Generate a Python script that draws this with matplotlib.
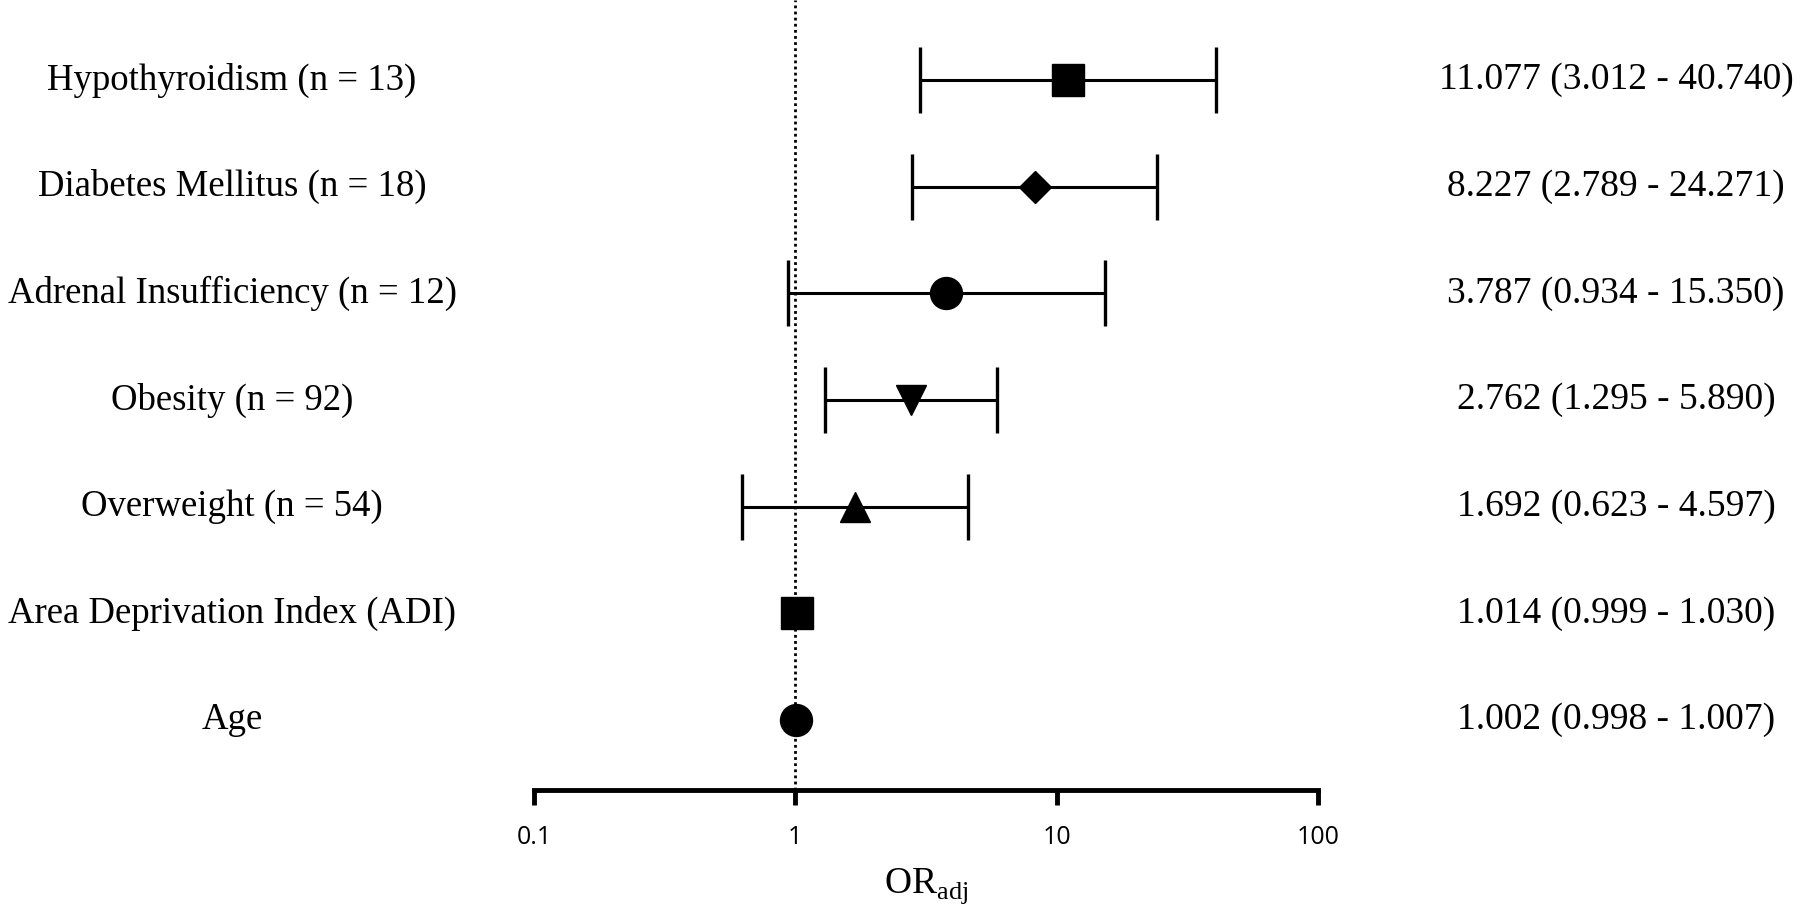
import matplotlib
matplotlib.use("Agg")
import matplotlib.pyplot as plt
import matplotlib.transforms as mtransforms
import numpy as np

labels = ["Hypothyroidism (n = 13)", "Diabetes Mellitus (n = 18)",
          "Adrenal Insufficiency (n = 12)", "Obesity (n = 92)",
          "Overweight (n = 54)", "Area Deprivation Index (ADI)", "Age"]
odds = [11.077, 8.227, 3.787, 2.762, 1.692, 1.014, 1.002]
lower = [3.012, 2.789, 0.934, 1.295, 0.623, 0.999, 0.998]
upper = [40.740, 24.271, 15.350, 5.890, 4.597, 1.030, 1.007]
markers = ["s", "D", "o", "v", "^", "s", "o"]
msizes = [23, 16.5, 23, 22, 22, 23, 23]
xticks = [0.1, 1, 10, 100]
xticklabels = ["0.1", "1", "10", "100"]

plt.rcParams['mathtext.fontset'] = 'custom'
plt.rcParams['mathtext.rm'] = 'Liberation Serif'

fig = plt.figure(figsize=(18, 9.16), dpi=100)
ax = fig.add_axes([534 / 1800, 126 / 916, 784 / 1800, 790 / 916])

n = len(labels)
ypos = list(range(n, 0, -1))

ax.axvline(1, color="black", lw=2, ls=(0, (1, 1.2)), zorder=1)

decade_px = 784 / 3.0
for i in range(n):
    err = [[odds[i] - lower[i]], [upper[i] - odds[i]]]
    # GraphPad-style: whiskers hidden when the CI fits inside the symbol
    span_px = np.log10(upper[i] / lower[i]) * decade_px
    cap = 24 if span_px > msizes[i] * 100 / 72 else 0
    ax.errorbar(odds[i], ypos[i], xerr=err, fmt="none", ecolor="black",
                elinewidth=2.2, capsize=cap, capthick=2.4, zorder=2)
    ax.plot(odds[i], ypos[i], marker=markers[i], ms=msizes[i], color="black",
            ls="none", zorder=3)

ax.set_xscale("log")
ax.set_xlim(0.1, 100)
ax.set_ylim(0.344, n + 0.75)
ax.set_xticks(xticks)
ax.set_xticklabels(xticklabels, family="Open Sans", fontsize=18)
ax.minorticks_off()
ax.set_yticks([])
for s in ["top", "left", "right"]:
    ax.spines[s].set_visible(False)
ax.spines["bottom"].set_linewidth(3.5)
ax.tick_params(axis="x", direction="out", length=11, width=3.5, pad=14)
ax.set_xlabel(r"OR$_{\mathrm{adj}}$", family="Liberation Serif", fontsize=27, labelpad=12)

trans_l = mtransforms.blended_transform_factory(fig.transFigure, ax.transData)
for i in range(n):
    ax.text(232 / 1800, ypos[i], labels[i], transform=trans_l, ha="center", va="center",
            family="Liberation Serif", fontsize=26.5)
    ax.text(1616 / 1800, ypos[i], "%.3f (%.3f - %.3f)" % (odds[i], lower[i], upper[i]),
            transform=trans_l, ha="center", va="center",
            family="Liberation Serif", fontsize=27)

fig.savefig("out.png", dpi=100)
